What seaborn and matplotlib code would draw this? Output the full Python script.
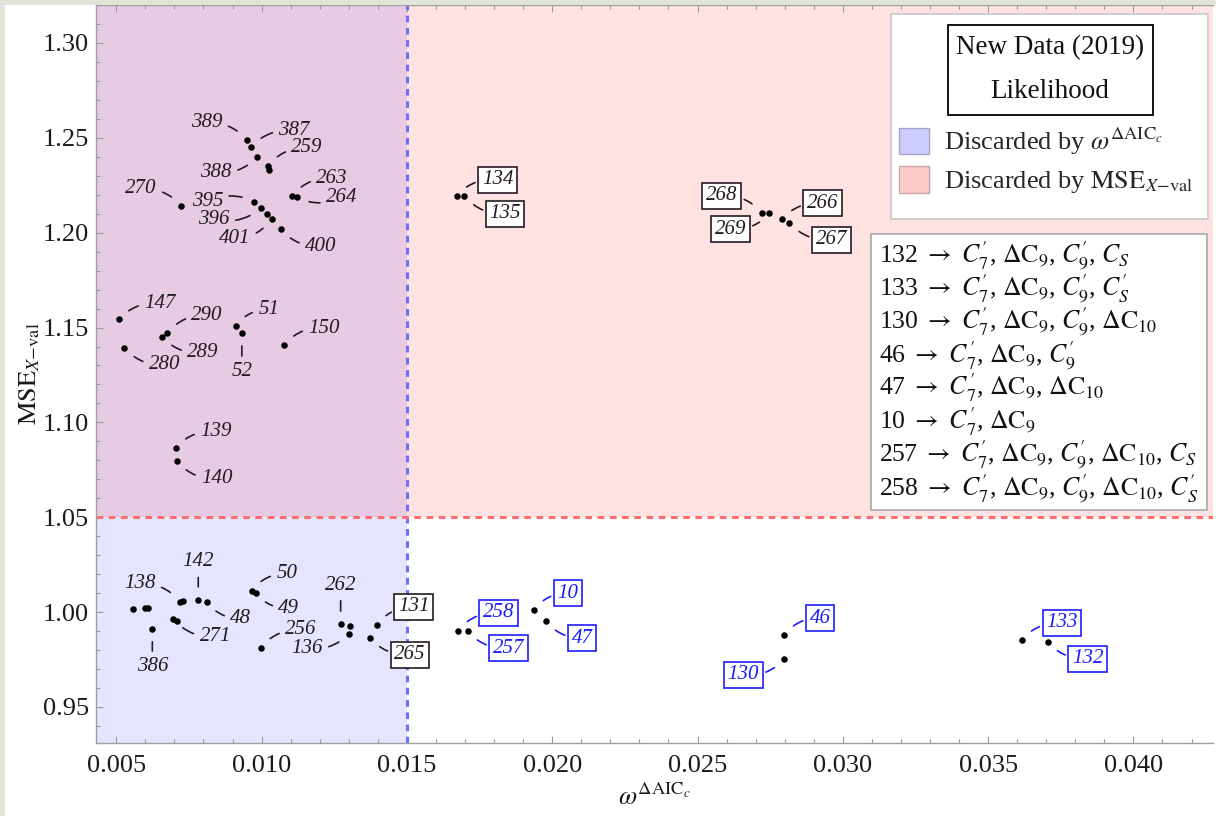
import matplotlib
matplotlib.use("Agg")
import matplotlib.pyplot as plt
from matplotlib.patches import Rectangle, Patch
from matplotlib.ticker import FixedLocator, MultipleLocator
import seaborn as sns
import pandas as pd

# ---------------- data ----------------
point_labels = ["389", "387", "388", "259", "", "270", "395", "396", "", "401", "400", "263", "264",
                "147", "280", "290", "289", "51", "52", "150", "139", "140",
                "", "", "", "386", "271", "", "138", "", "142", "48", "50", "49", "256",
                "262", "", "136", "131", "265",
                "134", "135", "268", "269", "266", "267",
                "258", "257", "10", "47", "46", "130", "133", "132"]
omega = [0.00949, 0.00964, 0.00985, 0.01022, 0.01025, 0.00723, 0.00975, 0.00998, 0.01018, 0.01035, 0.01066, 0.01104, 0.01121,
         0.00509, 0.00528, 0.00675, 0.00657, 0.00911, 0.00932, 0.01077, 0.00705, 0.00708,
         0.00556, 0.00599, 0.00610, 0.00624, 0.00696, 0.00708, 0.00719, 0.00731, 0.00782, 0.00811, 0.00966, 0.00980, 0.00997,
         0.01272, 0.01304, 0.01301, 0.01396, 0.01373,
         0.01671, 0.01697, 0.02721, 0.02747, 0.02790, 0.02816,
         0.01675, 0.01709, 0.01937, 0.01979, 0.02798, 0.02799, 0.03616, 0.03705]
mse = [1.2489, 1.2453, 1.2401, 1.2352, 1.2329, 1.2141, 1.2163, 1.2129, 1.2099, 1.2074, 1.2019, 1.2193, 1.2187,
       1.1543, 1.1394, 1.1470, 1.1452, 1.1510, 1.1473, 1.1408, 1.0867, 1.0798,
       1.0016, 1.0023, 1.0022, 0.9913, 0.9965, 0.9953, 1.0055, 1.0057, 1.0064, 1.0055, 1.0113, 1.0100, 0.9812,
       0.9936, 0.9927, 0.9887, 0.9932, 0.9865,
       1.2195, 1.2195, 1.2105, 1.2102, 1.2071, 1.2053,
       0.9902, 0.9900, 1.0011, 0.9953, 0.9879, 0.9753, 0.9853, 0.9844]
label_kind = (["plain"] * 38 + ["box"] * 2 + ["box"] * 6 + ["blue"] * 8)

x_ticks = [0.005, 0.010, 0.015, 0.020, 0.025, 0.030, 0.035, 0.040]
x_tick_labels = ["0.005", "0.010", "0.015", "0.020", "0.025", "0.030", "0.035", "0.040"]
y_ticks = [0.95, 1.00, 1.05, 1.10, 1.15, 1.20, 1.25, 1.30]
y_tick_labels = ["0.95", "1.00", "1.05", "1.10", "1.15", "1.20", "1.25", "1.30"]

omega_cut = 0.015
mse_cut = 1.05

legend_title = ["New Data (2019)", "Likelihood"]
legend_labels = [r"Discarded by $\omega^{\Delta\mathrm{AIC}_c}$",
                 r"Discarded by $\mathrm{MSE}_{X\mathrm{-val}}$"]

model_lines = [
    r"132 $\rightarrow$ $C_7^{\prime}$, $\Delta\mathrm{C}_9$, $C_9^{\prime}$, $C_S$",
    r"133 $\rightarrow$ $C_7^{\prime}$, $\Delta\mathrm{C}_9$, $C_9^{\prime}$, $C_S^{\prime}$",
    r"130 $\rightarrow$ $C_7^{\prime}$, $\Delta\mathrm{C}_9$, $C_9^{\prime}$, $\Delta\mathrm{C}_{10}$",
    r"46 $\rightarrow$ $C_7^{\prime}$, $\Delta\mathrm{C}_9$, $C_9^{\prime}$",
    r"47 $\rightarrow$ $C_7^{\prime}$, $\Delta\mathrm{C}_9$, $\Delta\mathrm{C}_{10}$",
    r"10 $\rightarrow$ $C_7^{\prime}$, $\Delta\mathrm{C}_9$",
    r"257 $\rightarrow$ $C_7^{\prime}$, $\Delta\mathrm{C}_9$, $C_9^{\prime}$, $\Delta\mathrm{C}_{10}$, $C_S$",
    r"258 $\rightarrow$ $C_7^{\prime}$, $\Delta\mathrm{C}_9$, $C_9^{\prime}$, $\Delta\mathrm{C}_{10}$, $C_S^{\prime}$",
]

# ---------------- layout (label offsets in pixels) ----------------
LABEL_OFFSETS = {
    "389": (-40, 17), "387": (43, 16), "388": (-41, -16), "259": (39, 18), "270": (-40, 17),
    "395": (-47, 0), "396": (-47, -11), "401": (-37, -20), "400": (40, -17), "263": (40, 18),
    "264": (45, 0), "147": (41, 16), "280": (40, -17), "290": (40, 18), "289": (41, -16),
    "51": (33, 16), "52": (0, -39), "150": (40, 17), "139": (40, 16), "140": (40, -18),
    "138": (-40, 18), "142": (0, 38), "48": (34, -17), "271": (42, -18), "386": (0, -38),
    "50": (35, 17), "49": (33, -15), "256": (40, 18), "262": (0, 39), "136": (-42, -15),
    "131": (37, 18), "265": (40, -17), "134": (41, 16), "135": (41, -18),
    "268": (-40, 17), "269": (-39, -16), "266": (41, 16), "267": (42, -17),
    "258": (41, 18), "257": (41, -17), "10": (34, 17), "47": (36, -17),
    "46": (36, 17), "130": (-41, -16), "133": (40, 17), "132": (40, -17),
}

W, H = 1216, 816
AX_L, AX_R, AX_T, AX_B = 96, 1213, 5, 743

sns.set_theme(style="white")
plt.rcParams["font.family"] = ["Liberation Serif", "DejaVu Serif"]
plt.rcParams["mathtext.fontset"] = "stix"

fig = plt.figure(figsize=(W / 100, H / 100), dpi=100)
fig.patch.set_facecolor("white")
ax = fig.add_axes([AX_L / W, (H - AX_B) / H, (AX_R - AX_L) / W, (AX_B - AX_T) / H])

xlo = 0.005 - (116.3 - AX_L) / 29060
xhi = 0.005 + (AX_R - 116.3) / 29060
ylo = 1.30 - (AX_B - 43) / 1897
yhi = 1.30 + (43 - AX_T) / 1897
ax.set_xlim(xlo, xhi)
ax.set_ylim(ylo, yhi)
ax.set_facecolor("white")

# shaded regions
ax.axvspan(xlo, omega_cut, color=(0, 0, 1), alpha=0.10, lw=0, zorder=0)
ax.axhspan(mse_cut, yhi, color=(1, 0, 0), alpha=0.11, lw=0, zorder=0)
ax.axvline(omega_cut, color="#6e6eff", lw=2.2, ls=(0, (2.2, 1.8)), zorder=1)
ax.axhline(mse_cut, color="#ff6e6e", lw=2.2, ls=(0, (2.2, 1.8)), zorder=1)

df = pd.DataFrame({"omega": omega, "mse": mse, "label": point_labels, "kind": label_kind})
sns.scatterplot(data=df, x="omega", y="mse", color="black", s=22, linewidth=0, ax=ax, zorder=3)

for lab, xv, yv, kind in zip(point_labels, omega, mse, label_kind):
    if not lab:
        continue
    dx, dy = LABEL_OFFSETS[lab]
    col = "#1c1cff" if kind == "blue" else "#231a20"
    bbox = None
    if kind in ("box", "blue"):
        bbox = dict(boxstyle="square,pad=0.17", fc="white", ec=col, lw=1.2)
    if dx == 0:
        rad = 0.0
    else:
        rad = 0.25 if dx * dy > 0 else -0.25
    ax.annotate(lab, xy=(xv, yv), xytext=(dx, dy), textcoords="offset pixels",
                ha="center", va="center", fontsize=15, fontstyle="italic", color=col,
                bbox=bbox, zorder=4,
                arrowprops=dict(arrowstyle="-", color=col, lw=1.2, shrinkA=2, shrinkB=9.5,
                                connectionstyle=f"arc3,rad={rad}"))

# axes styling
ax.xaxis.set_major_locator(FixedLocator(x_ticks))
ax.set_xticklabels(x_tick_labels)
ax.yaxis.set_major_locator(FixedLocator(y_ticks))
ax.set_yticklabels(y_tick_labels)
ax.xaxis.set_minor_locator(MultipleLocator(0.001))
ax.yaxis.set_minor_locator(MultipleLocator(0.01))
ax.tick_params(which="both", direction="in", color="#999999", width=0.8,
               top=True, left=True, bottom=True, right=False)
ax.tick_params(which="major", length=5, labelsize=19, labelcolor="#1a1a1a")
ax.tick_params(which="minor", length=3)
ax.tick_params(axis="x", which="major", pad=9)
ax.tick_params(axis="y", which="major", pad=5)
for s in ["left", "bottom", "top"]:
    ax.spines[s].set_color("#a0a0a0")
    ax.spines[s].set_linewidth(1.0)
ax.spines["right"].set_visible(False)

ax.set_xlabel(r"$\omega^{\Delta\mathrm{AIC}_c}$", fontsize=19, color="#1a1a1a")
ax.set_ylabel(r"$\mathrm{MSE}_{X\mathrm{-val}}$", fontsize=19, color="#1a1a1a")
ax.xaxis.set_label_coords(0.5, -0.055)
ax.yaxis.set_label_coords(-0.048, 0.5)


def axp(xp, yp):
    return ((xp - AX_L) / (AX_R - AX_L), (AX_B - yp) / (AX_B - AX_T))


# legend panel
x0, y0 = axp(891, 219)
x1, y1 = axp(1208, 14)
ax.add_patch(Rectangle((x0, y0), x1 - x0, y1 - y0, transform=ax.transAxes,
                       fc="white", ec="#c8c8c8", lw=1.2, zorder=6))
x0, y0 = axp(948, 115)
x1, y1 = axp(1153, 25)
ax.add_patch(Rectangle((x0, y0), x1 - x0, y1 - y0, transform=ax.transAxes,
                       fc="white", ec="black", lw=1.3, zorder=7))
for i, t in enumerate(legend_title):
    tx, ty = axp(1050, 48 + 43 * i)
    ax.text(tx, ty, t, transform=ax.transAxes, ha="center", va="center",
            fontsize=19.5, color="#111111", zorder=8)

handles = [Patch(facecolor="#ccccff", edgecolor="#a6a6c8", lw=1.0),
           Patch(facecolor="#ffcccc", edgecolor="#c8a6a6", lw=1.0)]
lx, ly = axp(899, 126)
leg = ax.legend(handles, legend_labels, loc="upper left", bbox_to_anchor=(lx, ly),
                frameon=False, fontsize=19, handlelength=1.15, handleheight=1.15,
                handletextpad=0.55, labelspacing=0.35, borderpad=0, borderaxespad=0)
leg.set_zorder(9)

# model text box
x0, y0 = axp(871, 510)
x1, y1 = axp(1207, 234)
ax.add_patch(Rectangle((x0, y0), x1 - x0, y1 - y0, transform=ax.transAxes,
                       fc="white", ec="#a8a8a8", lw=1.2, zorder=6))
for i, line in enumerate(model_lines):
    tx, ty = axp(879, 262 + 33.3 * i)
    ax.text(tx, ty, line, transform=ax.transAxes, ha="left", va="baseline",
            fontsize=18.5, color="#111111", zorder=8)

# screenshot-like gray frame strips
fig.patches.append(Rectangle((0, 0), 5 / W, 1, transform=fig.transFigure,
                             fc="#e2e4da", ec="none", zorder=0))
fig.patches.append(Rectangle((0, 1 - 5 / H), 1, 5 / H, transform=fig.transFigure,
                             fc="#e2e4da", ec="none", zorder=0))

fig.savefig("out.png", dpi=100)
